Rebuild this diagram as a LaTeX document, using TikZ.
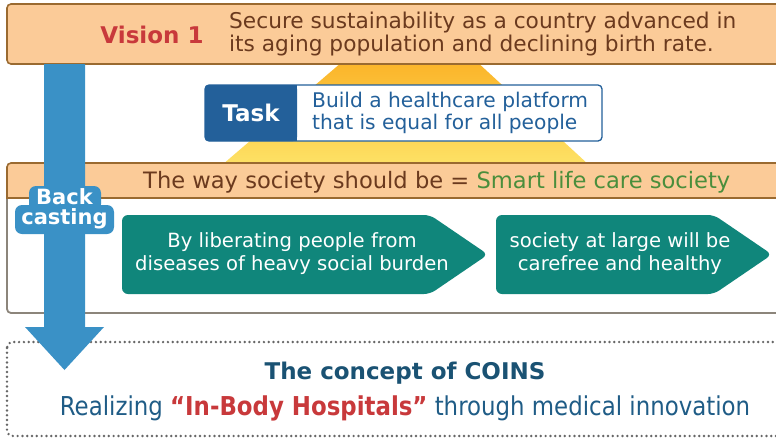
\documentclass[tikz,border=0pt]{standalone}
\usepackage{fontspec}
\setmainfont{DejaVu Sans}
\usepackage{graphicx}
\usetikzlibrary{positioning}

\definecolor{bannerfill}{HTML}{FBCB98}
\definecolor{bannerline}{HTML}{9A6A30}
\definecolor{visionred}{HTML}{C8393B}
\definecolor{browntext}{HTML}{6B3A1E}
\definecolor{backblue}{HTML}{3A91C6}
\definecolor{taskblue}{HTML}{23609A}
\definecolor{pyrtop}{HTML}{FBB52A}
\definecolor{pyrbot}{HTML}{FDE266}
\definecolor{smartgreen}{HTML}{4A8E3C}
\definecolor{stepteal}{HTML}{10867B}
\definecolor{framegray}{HTML}{8C857B}
\definecolor{dotgray}{HTML}{666666}
\definecolor{conceptblue}{HTML}{1A5273}
\definecolor{realblue}{HTML}{1F5C86}

\tikzset{
  banner/.style={draw=bannerline, line width=1.6pt, fill=bannerfill},
  visiontext/.style={text=visionred, font=\fontsize{23}{26}\selectfont\bfseries},
  goaltext/.style={text=browntext, anchor=west, align=left, inner sep=0pt,
    font=\fontsize{21.7}{23}\selectfont},
  tasktext/.style={text=taskblue, anchor=west, align=left, inner sep=0pt,
    font=\fontsize{20.2}{21.5}\selectfont},
  pointtext/.style={text=white, align=center, inner sep=0pt,
    font=\fontsize{19.6}{23}\selectfont},
  castbubble/.style={fill=backblue, rounded corners=7pt},
}

\begin{document}
\begin{tikzpicture}[x=1pt,y=-1pt]
   \useasboundingbox (0,0) rectangle (776,439);

   \begin{scope}
      \clip (412,2) -- (589,165) -- (222,165) -- cycle;
      \shade [top color=pyrtop, bottom color=pyrbot] (222,64) rectangle (589,165);
   \end{scope}

   \draw [banner, rounded corners=4pt] (7,4) rectangle (790,64);
   \node (vision) at (152,35) [visiontext] {Vision 1};
   \node (goal) at (229,34) [goaltext] {Secure sustainability as a country advanced in\\its aging population and declining birth rate.};

   \draw [draw=taskblue, fill=white, line width=1.3pt, rounded corners=4pt] (205,85) rectangle (602,141);
   \fill [taskblue, rounded corners=4pt] (205,85) rectangle (297,141);
   \fill [taskblue] (285,85) rectangle (297,141);
   \node (task) at (251,113) [text=white, font=\fontsize{23}{25}\selectfont\bfseries] {Task};
   \node (platform) at (312,113) [tasktext] {Build a healthcare platform\\that is equal for all people};

   \draw [draw=framegray, fill=white, line width=1.8pt, rounded corners=4pt] (7,170) rectangle (790,313);
   \filldraw [banner] (7,198) {[rounded corners=4pt] -- (7,163) -- (790,163)} -- (790,198) -- cycle;
   \node (society) at (143,182) [anchor=west, inner sep=0pt, text=browntext, font=\fontsize{22.6}{24}\selectfont]
      {The way society should be = \textcolor{smartgreen}{Smart life care society}};

   \fill [stepteal, rounded corners=6pt] (122,215) -- (430,215) -- (488,254.5) -- (430,294) -- (122,294) -- cycle;
   \fill [stepteal, rounded corners=6pt] (496,215) -- (714,215) -- (772,254.5) -- (714,294) -- (496,294) -- cycle;
   \node (liberate) at (292,254) [pointtext] {By liberating people from\\diseases of heavy social burden};
   \node (carefree) at (620,254) [pointtext] {society at large will be\\carefree and healthy};

   \draw [draw=dotgray, line width=2.7pt, line cap=round, dash pattern=on 0pt off 4.8pt, rounded corners=6pt] (7,342) rectangle (790,436);

   \fill [backblue] (44,64) -- (85,64) -- (85,327) -- (104,327) -- (64.5,370) -- (25,327) -- (44,327) -- cycle;
   \fill [castbubble] (29,186) rectangle (101,211);
   \fill [castbubble] (15,205) rectangle (114,234);
   \node (backcast) at (64.5,209) [align=center, inner sep=0pt, text=white, font=\fontsize{21}{21}\selectfont\bfseries]
      {Back\\[-1pt]casting};

   \node (coins) at (405,373) [text=conceptblue, font=\fontsize{23}{25}\selectfont\bfseries] {The concept of COINS};
   \node (realize) at (405,408) [text=realblue, font=\fontsize{26}{28}\selectfont]
      {\scalebox{0.88}[1]{Realizing \textcolor{visionred}{\bfseries “In-Body Hospitals”} through medical innovation}};

\end{tikzpicture}
\end{document}
